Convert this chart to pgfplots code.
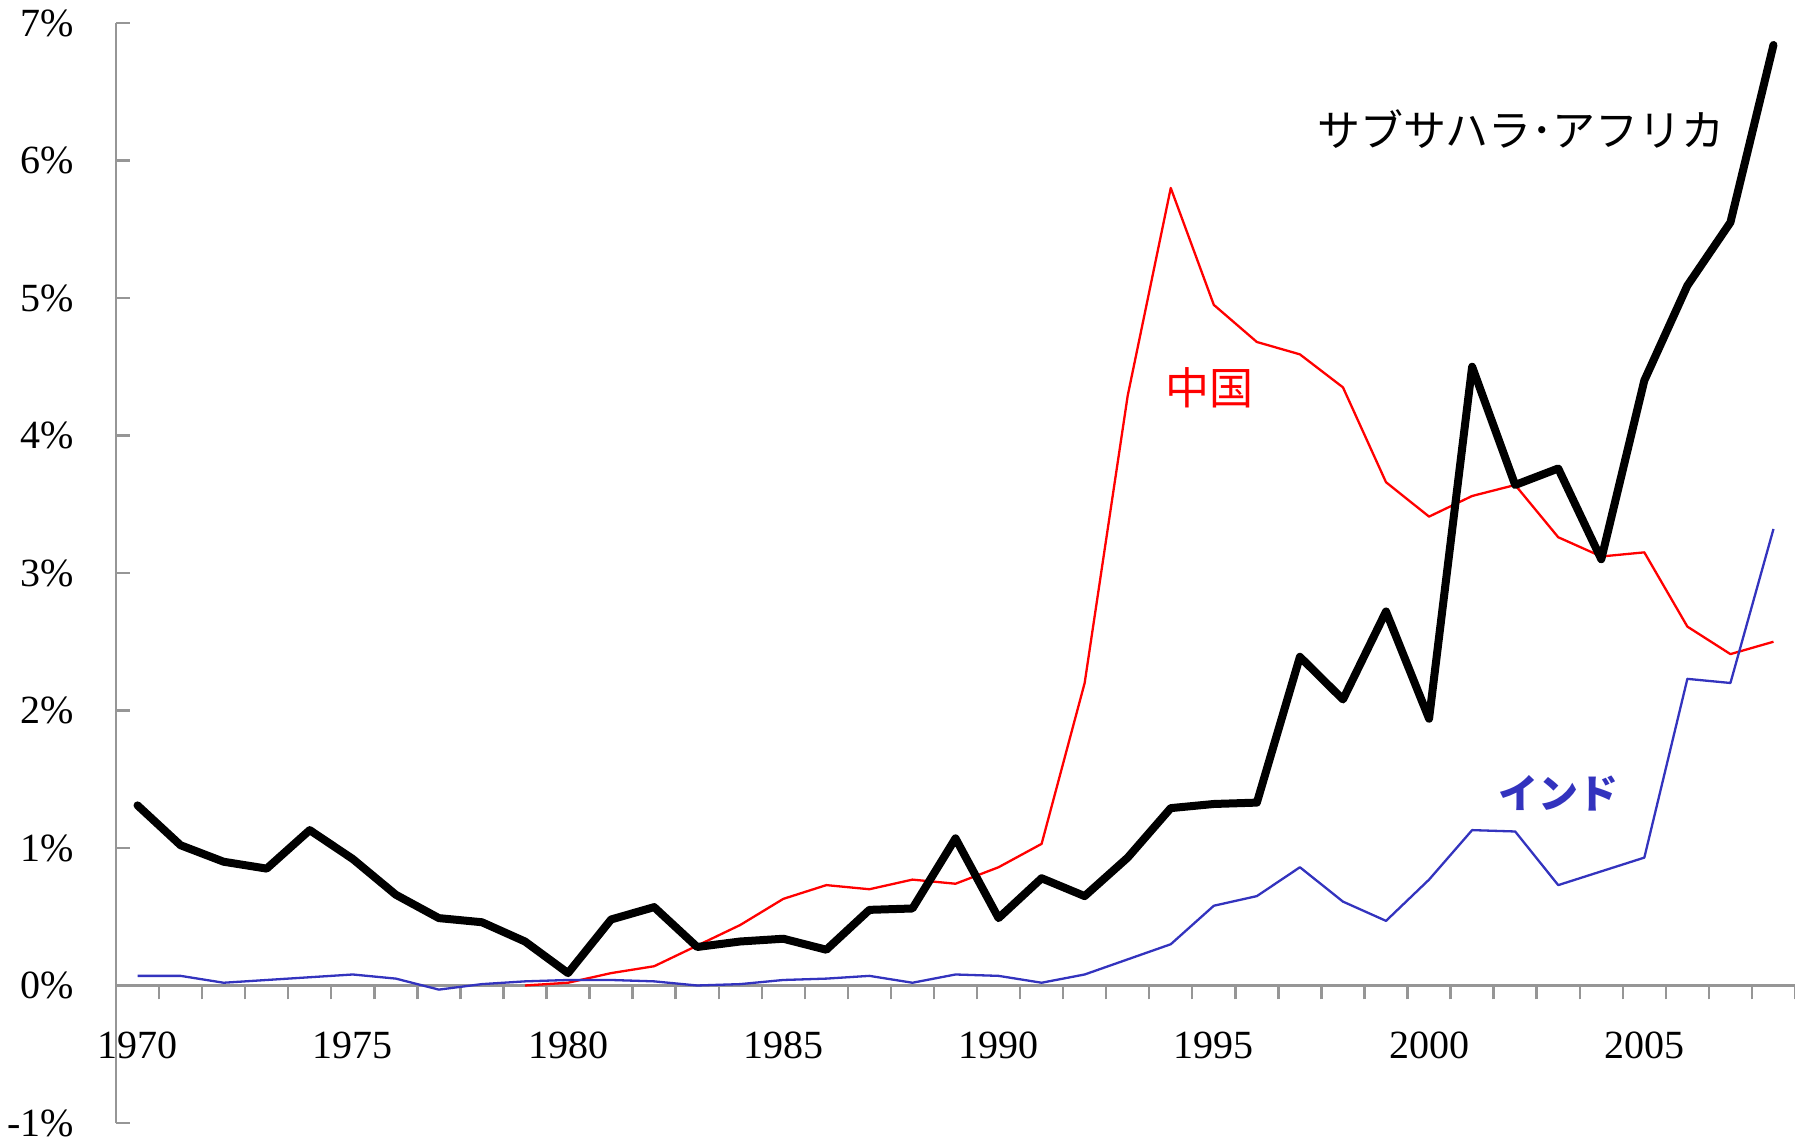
\documentclass[border=0pt]{standalone}
\usepackage{fontspec}
\setmainfont{Liberation Serif}
\newfontfamily\jp{Noto Sans CJK JP}
\usepackage{pgfplots}
\pgfplotsset{compat=1.18}
\definecolor{axisgray}{RGB}{150,150,150}
\definecolor{indblue}{RGB}{51,51,190}

% share of inward investment, by year
\pgfplotstableread{
year val
1970 1.31
1971 1.02
1972 0.90
1973 0.85
1974 1.13
1975 0.92
1976 0.66
1977 0.49
1978 0.46
1979 0.32
1980 0.09
1981 0.48
1982 0.57
1983 0.28
1984 0.32
1985 0.34
1986 0.26
1987 0.55
1988 0.56
1989 1.07
1990 0.49
1991 0.78
1992 0.65
1993 0.93
1994 1.29
1995 1.32
1996 1.33
1997 2.39
1998 2.08
1999 2.72
2000 1.94
2001 4.50
2002 3.64
2003 3.76
2004 3.10
2005 4.40
2006 5.09
2007 5.55
2008 6.84
}\ssa

\pgfplotstableread{
year val
1979 0.00
1980 0.02
1981 0.09
1982 0.14
1983 0.29
1984 0.44
1985 0.63
1986 0.73
1987 0.70
1988 0.77
1989 0.74
1990 0.86
1991 1.03
1992 2.20
1993 4.29
1994 5.80
1995 4.95
1996 4.68
1997 4.59
1998 4.35
1999 3.66
2000 3.41
2001 3.56
2002 3.64
2003 3.26
2004 3.12
2005 3.15
2006 2.61
2007 2.41
2008 2.50
}\china

\pgfplotstableread{
year val
1970 0.07
1971 0.07
1972 0.02
1973 0.04
1974 0.06
1975 0.08
1976 0.05
1977 -0.03
1978 0.01
1979 0.03
1980 0.04
1981 0.04
1982 0.03
1983 0.00
1984 0.01
1985 0.04
1986 0.05
1987 0.07
1988 0.02
1989 0.08
1990 0.07
1991 0.02
1992 0.08
1993 0.19
1994 0.30
1995 0.58
1996 0.65
1997 0.86
1998 0.61
1999 0.47
2000 0.77
2001 1.13
2002 1.12
2003 0.73
2004 0.83
2005 0.93
2006 2.23
2007 2.20
2008 3.32
}\india

\begin{document}
\begin{tikzpicture}
\useasboundingbox (-58pt,-10.5pt) rectangle (839.5pt,561.5pt);
\begin{axis}[
  at={(0,0)}, anchor=south west,
  scale only axis, width=839.5pt, height=550pt,
  xmin=1969.5, xmax=2008.5, ymin=-1, ymax=7,
  axis x line=middle, axis y line=left,
  axis line style={-, draw=axisgray, line width=1.2pt},
  clip=false,
  tick align=center,
  major tick length=7pt, minor tick length=7pt,
  xtick={1970,1975,...,2005},
  minor xtick={1969.5,1970.5,...,2008.5},
  major x tick style={draw=none},
  minor x tick style={draw=axisgray, line width=1.2pt, yshift=-3.5pt},
  ytick={-1,0,...,7},
  ytick style={draw=axisgray, line width=1.2pt, xshift=3.5pt},
  /pgf/number format/assume math mode=true,
  /pgf/number format/1000 sep={},
  yticklabel={\pgfmathprintnumber{\tick}\%},
  tick label style={font=\fontsize{20}{24}\selectfont},
  xticklabel style={yshift=-16pt},
  yticklabel style={xshift=-14pt},
]
\addplot[red, line width=1.15pt, line join=round] table[x=year, y=val] {\china};
\addplot[indblue, line width=1.15pt, line join=round] table[x=year, y=val] {\india};
\addplot[black, line width=4pt, line join=round, line cap=round] table[x=year, y=val] {\ssa};
\node[font=\jp\fontsize{21.5}{24}\selectfont] at (axis cs:2002.14,6.23) {サブサハラ･アフリカ};
\node[font=\jp\fontsize{22}{24}\selectfont, text=red] at (axis cs:1994.9,4.35) {中国};
\node[font=\jp\bfseries\fontsize{20}{24}\selectfont, text=indblue] at (axis cs:2003.0,1.40) {インド};
\end{axis}
\end{tikzpicture}
\end{document}
